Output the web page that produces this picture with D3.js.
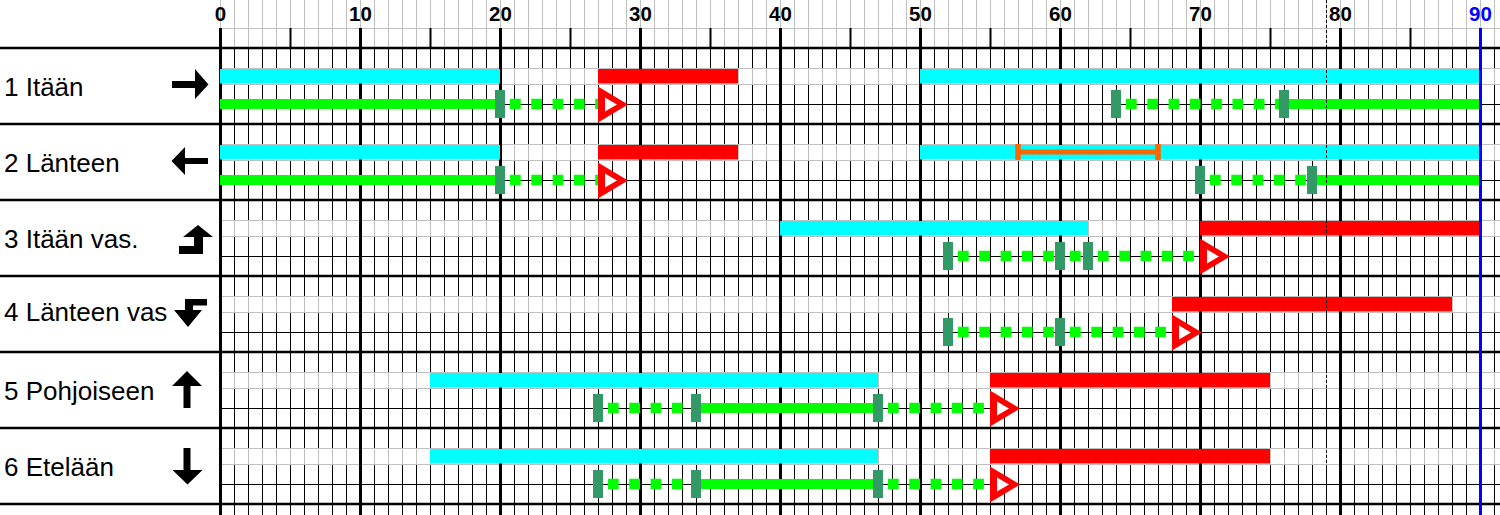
<!DOCTYPE html>
<html><head><meta charset="utf-8">
<script src="https://cdn.jsdelivr.net/npm/d3@7"></script>
<style>html,body{margin:0;padding:0;background:#fff;overflow:hidden}</style>
</head><body><svg id="chart" width="1500" height="515"></svg>
<script>
// ---------------- data ----------------
const phases = ["1 Itään", "2 Länteen", "3 Itään vas.", "4 Länteen vas", "5 Pohjoiseen", "6 Etelään"];
const arrowKinds = ["right", "left", "upTurn", "downTurn", "up", "down"];
const tickLabels = [0, 10, 20, 30, 40, 50, 60, 70, 80, 90];
const cycleLength = 90;
const referenceTime = 79;

// green signal (cyan) bars
const greenBars = [
  {row: 0, start: 0, end: 20}, {row: 0, start: 50, end: 90},
  {row: 1, start: 0, end: 20}, {row: 1, start: 50, end: 90},
  {row: 2, start: 40, end: 62},
  {row: 4, start: 15, end: 47},
  {row: 5, start: 15, end: 47}
];
// red bars
const redBars = [
  {row: 0, start: 27, end: 37},
  {row: 1, start: 27, end: 37},
  {row: 2, start: 70, end: 90},
  {row: 3, start: 68, end: 88},
  {row: 4, start: 55, end: 75},
  {row: 5, start: 55, end: 75}
];
// orange interval
const orangeIntervals = [{row: 1, start: 57, end: 67}];
// demand lines (solid)
const solidLines = [
  {row: 0, start: 0, end: 20}, {row: 0, start: 76, end: 90},
  {row: 1, start: 0, end: 20}, {row: 1, start: 78, end: 90},
  {row: 4, start: 34, end: 47},
  {row: 5, start: 34, end: 47}
];
// extension lines (dotted)
const dottedLines = [
  {row: 0, start: 20, end: 27}, {row: 0, start: 64, end: 76},
  {row: 1, start: 20, end: 27}, {row: 1, start: 70, end: 78},
  {row: 2, start: 52, end: 60}, {row: 2, start: 60, end: 62}, {row: 2, start: 62, end: 70},
  {row: 3, start: 52, end: 60}, {row: 3, start: 60, end: 68},
  {row: 4, start: 27, end: 34}, {row: 4, start: 47, end: 55},
  {row: 5, start: 27, end: 34}, {row: 5, start: 47, end: 55}
];
// dark green markers
const markers = [
  {row: 0, at: 20}, {row: 0, at: 64}, {row: 0, at: 76},
  {row: 1, at: 20}, {row: 1, at: 70}, {row: 1, at: 78},
  {row: 2, at: 52}, {row: 2, at: 60}, {row: 2, at: 62},
  {row: 3, at: 52}, {row: 3, at: 60},
  {row: 4, at: 27}, {row: 4, at: 34}, {row: 4, at: 47},
  {row: 5, at: 27}, {row: 5, at: 34}, {row: 5, at: 47}
];
// red triangles
const triangles = [
  {row: 0, at: 27}, {row: 1, at: 27}, {row: 2, at: 70},
  {row: 3, at: 68}, {row: 4, at: 55}, {row: 5, at: 55}
];

// ---------------- drawing ----------------
const W = 1500, H = 515;
const svg = d3.select("#chart");
svg.append("rect").attr("width", W).attr("height", H).attr("fill", "#fff");

const x = d3.scaleLinear().domain([0, cycleLength]).range([220, 1480]);
const row = d3.scaleBand().domain(d3.range(phases.length)).range([48, 504]);
const units = d3.range(0, 92);
const GREY = "#c0c0c0";

const grid = svg.append("g");
// grey verticals everywhere
grid.selectAll(".vg").data(units).join("line")
  .attr("x1", d => x(d) + 0.5).attr("x2", d => x(d) + 0.5)
  .attr("y1", 0).attr("y2", H).attr("stroke", GREY).attr("stroke-width", 1);
// black verticals in rows (outside signal band)
phases.forEach((p, i) => {
  const T = row(i);
  [[T, T + 20], [T + 36, T + 76 + (i === phases.length - 1 ? 11 : 0)]].forEach(([a, b]) => {
    grid.append("g").selectAll("line").data(units.filter(u => u % 10 !== 0)).join("line")
      .attr("x1", d => x(d) + 0.5).attr("x2", d => x(d) + 0.5)
      .attr("y1", a).attr("y2", b).attr("stroke", "#000").attr("stroke-width", 1);
  });
});
// horizontal line in header
grid.append("line").attr("x1", 220).attr("x2", W).attr("y1", 28.5).attr("y2", 28.5)
  .attr("stroke", GREY);
// header half-decade ticks
grid.selectAll(".vh").data(units.filter(u => u % 10 === 5)).join("line")
  .attr("x1", d => x(d) + 0.5).attr("x2", d => x(d) + 0.5)
  .attr("y1", 28).attr("y2", 48).attr("stroke", "#000").attr("stroke-width", 2);
// horizontal lines inside rows
phases.forEach((p, i) => {
  const T = row(i);
  [[T + 20.5, GREY], [T + 36.5, GREY], [T + 56.5, "#000"]].forEach(([yy, c]) => {
    grid.append("line").attr("x1", 220).attr("x2", W).attr("y1", yy).attr("y2", yy)
      .attr("stroke", c).attr("stroke-width", 1);
  });
});
// major verticals (10s)
grid.selectAll(".vm").data(units.filter(u => u % 10 === 0 && u !== cycleLength)).join("line")
  .attr("x1", d => x(d) + 0.5).attr("x2", d => x(d) + 0.5)
  .attr("y1", 28).attr("y2", H).attr("stroke", "#000")
  .attr("stroke-width", 3);
// row separator lines
grid.selectAll(".rs").data(d3.range(phases.length + 1)).join("line")
  .attr("x1", 0).attr("x2", W)
  .attr("y1", d => 48 + d * row.bandwidth()).attr("y2", d => 48 + d * row.bandwidth())
  .attr("stroke", "#000").attr("stroke-width", 2.5);

// header labels
svg.append("g").selectAll("text").data(tickLabels).join("text")
  .attr("x", d => x(d) + 0.5).attr("y", 21)
  .attr("text-anchor", "middle")
  .attr("font-family", "Liberation Sans, Arial, sans-serif")
  .attr("font-weight", "bold").attr("font-size", 20.5)
  .attr("fill", d => d === cycleLength ? "#0000ff" : "#000")
  .text(d => d);

// row labels
svg.append("g").selectAll("text").data(phases).join("text")
  .attr("x", 4).attr("y", (d, i) => row(i) + (i === 3 ? 45 : 48))
  .attr("font-family", "Liberation Sans, Arial, sans-serif")
  .attr("font-size", 26).attr("fill", "#000")
  .text(d => d);

// arrows
const arrowPath = {
  right: T => `M172,${T+33}H195V${T+21}L208.5,${T+36.5}L195,${T+51}V${T+40}H172Z`,
  left: T => `M208,${T+34}H185V${T+23}L171.5,${T+37}L185,${T+51}V${T+40}H208Z`,
  upTurn: T => `M198,${T+25}L213,${T+37}H203V${T+54}H179V${T+46}H194V${T+37}H183Z`,
  downTurn: T => `M207,${T+23}V${T+29.5}H193V${T+34}H202L188,${T+51}L174,${T+34}H185V${T+23}Z`,
  up: T => `M187,${T+19}L202,${T+34}H190.5V${T+56}H183.5V${T+34}H172Z`,
  down: T => `M183.5,${T+20}H190.5V${T+42}H202.5L187.5,${T+56.5}L172.5,${T+42}H183.5Z`
};
svg.append("g").selectAll("path").data(arrowKinds).join("path")
  .attr("d", (k, i) => arrowPath[k](row(i)))
  .attr("fill", "#000");

// signal bars
const bars = svg.append("g");
bars.selectAll(".cy").data(greenBars).join("rect")
  .attr("x", d => x(d.start)).attr("width", d => x(d.end) - x(d.start))
  .attr("y", d => row(d.row) + 21).attr("height", 14.5).attr("fill", "#00ffff");
bars.selectAll(".rd").data(redBars).join("rect")
  .attr("x", d => x(d.start)).attr("width", d => x(d.end) - x(d.start))
  .attr("y", d => row(d.row) + 21).attr("height", 14.5).attr("fill", "#ff0000");

// orange interval
const og = svg.append("g");
orangeIntervals.forEach(d => {
  const T = row(d.row);
  og.append("line").attr("x1", x(d.start)).attr("x2", x(d.end))
    .attr("y1", T + 28).attr("y2", T + 28).attr("stroke", "#ff6600").attr("stroke-width", 5);
  [d.start, d.end].forEach(v => og.append("rect")
    .attr("x", x(v) - 2.75).attr("width", 5.5).attr("y", T + 20).attr("height", 16)
    .attr("fill", "#ff6600"));
});

// demand lines
const lines = svg.append("g");
lines.selectAll(".sl").data(solidLines).join("line")
  .attr("x1", d => x(d.start)).attr("x2", d => x(d.end))
  .attr("y1", d => row(d.row) + 56).attr("y2", d => row(d.row) + 56)
  .attr("stroke", "#00ff00").attr("stroke-width", 10);
lines.selectAll(".dl").data(dottedLines).join("line")
  .attr("x1", d => x(d.start)).attr("x2", d => x(d.end))
  .attr("y1", d => row(d.row) + 56).attr("y2", d => row(d.row) + 56)
  .attr("stroke", "#00ff00").attr("stroke-width", 10.5)
  .attr("stroke-dasharray", "10.7,10.6").attr("stroke-dashoffset", 11.3);

// markers
svg.append("g").selectAll("rect").data(markers).join("rect")
  .attr("x", d => x(d.at) - 5).attr("width", 10)
  .attr("y", d => row(d.row) + 42).attr("height", 28)
  .attr("fill", "#339966");

// triangles
const tg = svg.append("g");
tg.selectAll(".to").data(triangles).join("path")
  .attr("d", d => { const X = x(d.at), T = row(d.row);
    return `M${X},${T+38.5}L${X+30},${T+56.5}L${X},${T+74.5}Z`; })
  .attr("fill", "#ff0000");
tg.selectAll(".ti").data(triangles).join("path")
  .attr("d", d => { const X = x(d.at), T = row(d.row);
    return `M${X+7},${T+49.5}L${X+19},${T+56.5}L${X+7},${T+63.5}Z`; })
  .attr("fill", "#fff");

// cycle end line
svg.append("line").attr("x1", x(cycleLength) + 0.5).attr("x2", x(cycleLength) + 0.5)
  .attr("y1", 28).attr("y2", H).attr("stroke", "#0000ff").attr("stroke-width", 3);
// reference dashed line
svg.append("line").attr("x1", x(referenceTime) + 0.5).attr("x2", x(referenceTime) + 0.5)
  .attr("y1", 0).attr("y2", H).attr("stroke", "#000").attr("stroke-width", 1)
  .attr("stroke-dasharray", "3,2");
</script></body></html>
